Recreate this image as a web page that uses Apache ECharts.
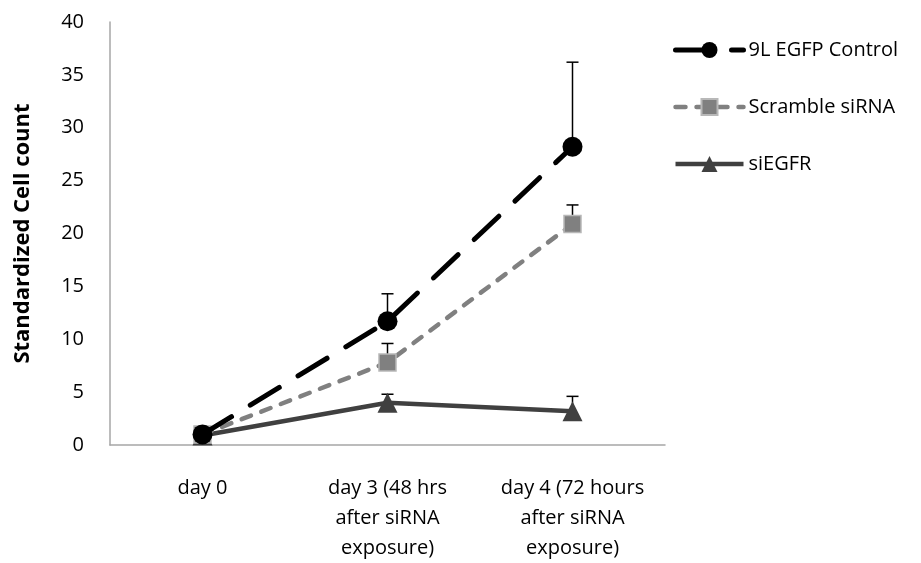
<!DOCTYPE html>
<html><head><meta charset="utf-8">
<script src="https://cdn.jsdelivr.net/npm/echarts@6/dist/echarts.min.js"></script>
<style>html,body{margin:0;padding:0;background:#fff}#c{width:921px;height:563px}</style>
</head><body><div id="c"></div>
<script>
const categories = ['day 0', 'day 3 (48 hrs\nafter siRNA\nexposure)', 'day 4 (72 hours\nafter siRNA\nexposure)'];
const seriesNames = ['9L EGFP Control', 'Scramble siRNA', 'siEGFR'];
const controlValues = [1.0, 11.7, 28.2];
const controlUpper = [1.0, 14.3, 36.2];
const scrambleValues = [1.0, 7.8, 20.9];
const scrambleUpper = [1.0, 9.6, 22.7];
const siEGFRValues = [0.9, 4.0, 3.2];
const siEGFRUpper = [0.9, 4.8, 4.6];
const yTicks = [0, 40, 5];

const font = '"Open Sans", sans-serif';

function errSeries(vals, ups, color) {
  return {
    type: 'custom', silent: true, z: 1,
    data: vals.map((v, i) => [i, v, ups[i]]),
    renderItem: function (params, api) {
      const i = api.value(0);
      if (api.value(2) <= api.value(1)) return null;
      const p0 = api.coord([i, api.value(1)]);
      const p1 = api.coord([i, api.value(2)]);
      const st = { stroke: color, lineWidth: 1.5 };
      return { type: 'group', children: [
        { type: 'line', shape: { x1: p0[0], y1: p0[1], x2: p1[0], y2: p1[1] }, style: st },
        { type: 'line', shape: { x1: p1[0] - 6, y1: p1[1], x2: p1[0] + 6, y2: p1[1] }, style: st }
      ]};
    }
  };
}

const chart = echarts.init(document.getElementById('c'), null, { renderer: 'canvas' });
chart.setOption({
  animation: false,
  backgroundColor: '#fff',
  textStyle: { fontFamily: font },
  grid: { left: 110, right: 256, top: 22, bottom: 117, containLabel: false },
  legend: {
    orient: 'vertical', left: 668, top: 33, itemGap: 33,
    itemWidth: 68, itemHeight: 20,
    lineStyle: { width: 'inherit', type: 'inherit' },
    textStyle: { fontFamily: font, fontSize: 20, color: '#000', lineHeight: 24 },
    data: seriesNames
  },
  xAxis: {
    type: 'category', data: categories, boundaryGap: true,
    axisLine: { lineStyle: { color: '#a6a6a6', width: 1.5 } },
    axisTick: { show: false },
    axisLabel: { fontFamily: font, fontSize: 20, color: '#000', margin: 28, lineHeight: 30, interval: 0 }
  },
  yAxis: {
    type: 'value', min: yTicks[0], max: yTicks[1], interval: yTicks[2],
    name: 'Standardized Cell count', nameLocation: 'middle', nameGap: 76, nameRotate: 90,
    nameTextStyle: { fontFamily: font, fontSize: 22, fontWeight: 'bold', color: '#000' },
    axisLine: { show: true, lineStyle: { color: '#a6a6a6', width: 1.5 } },
    axisTick: { show: false },
    splitLine: { show: false },
    axisLabel: { fontFamily: font, fontSize: 20, color: '#000', margin: 26 }
  },
  series: [
    errSeries(controlValues, controlUpper, '#000'),
    errSeries(scrambleValues, scrambleUpper, '#000'),
    errSeries(siEGFRValues, siEGFRUpper, '#000'),
    {
      name: seriesNames[0], type: 'line', data: controlValues, z: 4,
      symbol: 'circle', symbolSize: 20,
      lineStyle: { color: '#000', width: 5, type: [34, 22], cap: 'round' },
      itemStyle: { color: '#000' }
    },
    {
      name: seriesNames[1], type: 'line', data: scrambleValues, z: 3,
      symbol: 'rect', symbolSize: 17,
      lineStyle: { color: '#808080', width: 4.5, type: [10, 11], cap: 'round' },
      itemStyle: { color: '#808080', borderColor: '#b8b8b8', borderWidth: 1.5 }
    },
    {
      name: seriesNames[2], type: 'line', data: siEGFRValues, z: 2,
      symbol: 'triangle', symbolSize: 20,
      lineStyle: { color: '#404040', width: 4.5 },
      itemStyle: { color: '#404040' }
    }
  ]
});
</script></body></html>
